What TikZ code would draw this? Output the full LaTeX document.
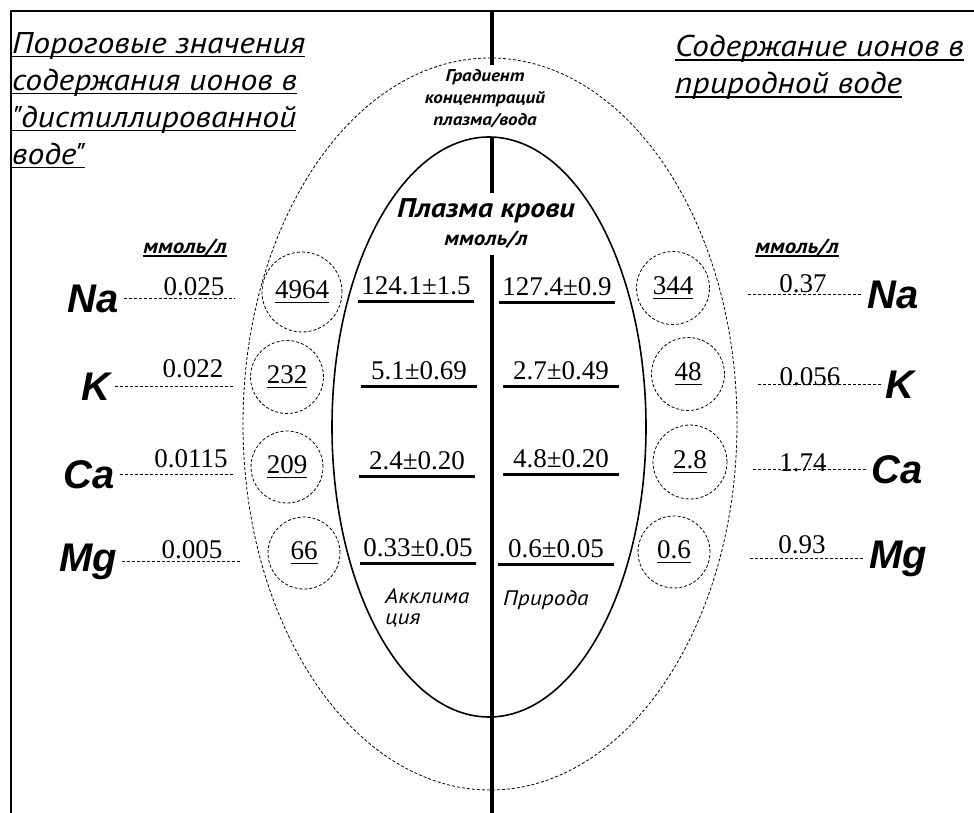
\documentclass[tikz,border=0pt]{standalone}
\usepackage{fontspec}
\setmainfont{Liberation Serif}
\newfontfamily\arialfont{Liberation Sans}
\newfontfamily\cyrfont[FakeStretch=1.12]{PT Sans}
\newcommand\elemfont{\arialfont\bfseries\itshape\fontsize{40}{44}\selectfont}
\newcommand\numfont{\fontsize{27}{30}\selectfont}
\newcommand\headfont{\cyrfont\itshape\fontsize{30}{37}\selectfont}
\newcommand\unitfont{\cyrfont\bfseries\itshape\fontsize{20.5}{20}\selectfont}
\newcommand\notefont{\cyrfont\itshape\fontsize{21}{21}\selectfont}
% underline: thickness, text (rule 4pt below the baseline)
\newcommand\ulline[2]{\setbox0\hbox{#2}\rlap{\vrule width\wd0 height\dimexpr#1-4pt\relax depth4pt}\box0}
\newcommand\ulhead[1]{\ulline{1.6pt}{#1}}
\newcommand\ulnum[1]{\ulline{0.9pt}{#1}}

\begin{document}
\begin{tikzpicture}[x=1pt,y=-1pt,
	dashpat/.style={dash pattern=on 3pt off 2pt,line width=0.8pt},
	elem/.style={font=\elemfont,anchor=base,inner sep=0pt,outer xsep=5pt},
	dose/.style={font=\numfont,anchor=base,inner sep=0pt},
	conc/.style={font=\numfont,anchor=base,inner sep=0pt,outer ysep=7pt,minimum width=116pt},
	ring/.style={circle,draw,dashpat,font=\numfont,inner sep=0pt},
	lead/.style={dashpat},
	bar/.style={line width=3.5pt},
	axis/.style={line width=4pt}]
	\path[use as bounding box] (0,0) rectangle (974,813);
	% frame
	\draw[line width=1.2pt] (11,813) -- (11,11) -- (974,11);

	% ellipses and axis
	\draw[dashpat] (490,424) ellipse [x radius=247pt,y radius=366pt];
	\draw[line width=1.6pt] (489,427) ellipse [x radius=157pt,y radius=290pt];
	\coordinate (axtop) at (491.5,11);
	\coordinate (ax1) at (491.5,65);
	\coordinate (ax2) at (491.5,137);
	\coordinate (ax3) at (491.5,193);
	\coordinate (ax4) at (491.5,255);
	\coordinate (axbot) at (491.5,813);
	\draw[axis] (axtop) -- (ax1) (ax2) -- (ax3) (ax4) -- (axbot);

	% headings
	\node[font=\headfont,align=left,anchor=north west,inner sep=0pt] (headL) at (12,32)
		{\ulhead{Пороговые значения}\\\ulhead{содержания ионов в}\\\ulhead{"дистиллированной}\\\ulhead{воде"}};
	\node[font=\headfont,align=left,anchor=north west,inner sep=0pt] (headR) at (675,35)
		{\ulhead{Содержание ионов в}\\\ulhead{природной воде}};
	\node[font=\cyrfont\bfseries\itshape\fontsize{17}{22}\selectfont,align=center,anchor=north,inner sep=0pt] (grad) at (485,69)
		{Градиент\\концентраций\\плазма/вода};
	\node[font=\cyrfont\bfseries\itshape\fontsize{27}{28}\selectfont,anchor=base,inner sep=0pt] (plasma) at (486,218) {Плазма крови};
	\node[font=\unitfont,anchor=base,inner sep=0pt] (unitC) at (486,245) {ммоль/л};
	\node[font=\unitfont,anchor=base,inner sep=0pt] (unitL) at (185,253) {\ulhead{ммоль/л}};
	\node[font=\unitfont,anchor=base,inner sep=0pt] (unitR) at (797,253) {\ulhead{ммоль/л}};

	% left side
	\node[elem] (naL) at (93,312) {Na};
	\node[elem] (kL) at (96,400) {K};
	\node[elem] (caL) at (89,488) {Ca};
	\node[elem] (mgL) at (88,571) {Mg};
	\coordinate (naLend) at (235,299);
	\coordinate (kLend) at (233,386);
	\coordinate (caLend) at (233,477);
	\coordinate (mgLend) at (240,563);
	\draw[lead] (naL.east) -- (naL.east -| naLend);
	\draw[lead] (kL.east) -- (kL.east -| kLend);
	\draw[lead] (caL.east) -- (caL.east -| caLend);
	\draw[lead] (mgL.east) -- (mgL.east -| mgLend);
	\node[dose] (naLval) at (194,295) {0.025};
	\node[dose] (kLval) at (193,377) {0.022};
	\node[dose] (caLval) at (191,467) {0.0115};
	\node[dose] (mgLval) at (192,558) {0.005};
	\node[ring,minimum size=80pt] (naLring) at (302,292) {\ulnum{4964}};
	\node[ring,minimum size=73pt] (kLring) at (287,377) {\ulnum{232}};
	\node[ring,minimum size=72pt] (caLring) at (287,467) {\ulnum{209}};
	\node[ring,minimum size=72pt] (mgLring) at (304,553) {\ulnum{66}};

	% plasma values
	\node[conc] (naAccl) at (416,294) {124.1±1.5};
	\node[conc] (kAccl) at (419,379) {5.1±0.69};
	\node[conc] (caAccl) at (417,469) {2.4±0.20};
	\node[conc] (mgAccl) at (418,556) {0.33±0.05};
	\node[conc] (naNat) at (557,295) {127.4±0.9};
	\node[conc] (kNat) at (561,379) {2.7±0.49};
	\node[conc] (caNat) at (561,467) {4.8±0.20};
	\node[conc] (mgNat) at (556,557) {0.6±0.05};
	\draw[bar] (naAccl.south west) -- (naAccl.south east);
	\draw[bar] (kAccl.south west) -- (kAccl.south east);
	\draw[bar] (caAccl.south west) -- (caAccl.south east);
	\draw[bar] (mgAccl.south west) -- (mgAccl.south east);
	\draw[bar] (naNat.south west) -- (naNat.south east);
	\draw[bar] (kNat.south west) -- (kNat.south east);
	\draw[bar] (caNat.south west) -- (caNat.south east);
	\draw[bar] (mgNat.south west) -- (mgNat.south east);
	\node[font=\notefont,align=left,anchor=north west,inner sep=0pt] (accl) at (385,588) {Акклима\\ция};
	\node[font=\notefont,anchor=base west,inner sep=0pt] (nat) at (503,605) {Природа};

	% right side
	\node[ring,minimum size=73pt] (naRring) at (673,288) {\ulnum{344}};
	\node[ring,minimum size=73pt] (kRring) at (688,374) {\ulnum{48}};
	\node[ring,minimum size=74pt] (caRring) at (690,462) {\ulnum{2.8}};
	\node[ring,minimum size=72pt] (mgRring) at (674,552) {\ulnum{0.6}};
	\node[dose] (naRval) at (803,292) {0.37};
	\node[dose] (kRval) at (810,385) {0.056};
	\node[dose] (caRval) at (803,471) {1.74};
	\node[dose] (mgRval) at (802,553) {0.93};
	\node[elem] (naR) at (893,308) {Na};
	\node[elem] (kR) at (900,398) {K};
	\node[elem] (caR) at (897,483) {Ca};
	\node[elem] (mgR) at (898,568) {Mg};
	\coordinate (naRbeg) at (748,294);
	\coordinate (kRbeg) at (758,387);
	\coordinate (caRbeg) at (753,472);
	\coordinate (mgRbeg) at (750,560);
	\draw[lead] (naR.west -| naRbeg) -- (naR.west);
	\draw[lead] (kR.west -| kRbeg) -- (kR.west);
	\draw[lead] (caR.west -| caRbeg) -- (caR.west);
	\draw[lead] (mgR.west -| mgRbeg) -- (mgR.west);
\end{tikzpicture}
\end{document}
